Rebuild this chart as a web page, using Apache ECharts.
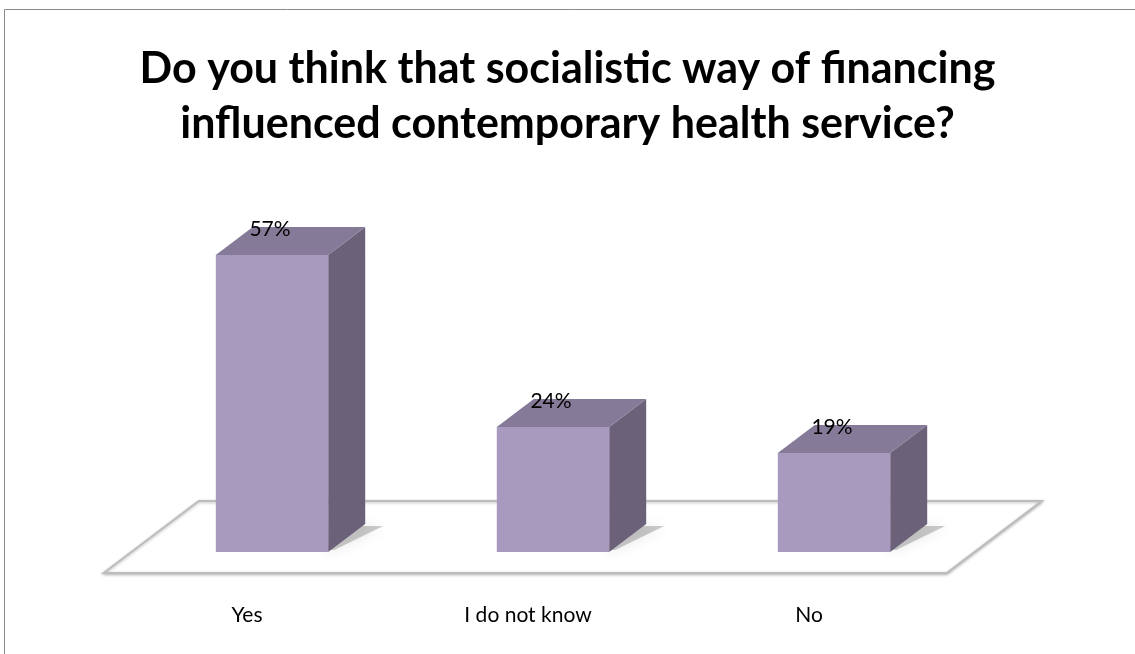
<!DOCTYPE html>
<html>
<head>
<meta charset="utf-8">
<script src="https://cdn.jsdelivr.net/npm/echarts@6/dist/echarts.min.js"></script>
<style>
html,body{margin:0;padding:0;background:#fff;}
#chart{width:1135px;height:654px;}
</style>
</head>
<body>
<div id="chart"></div>
<script>
// ---- data ----
const titleLines = ['Do you think that socialistic way of financing', 'influenced contemporary health service?'];
const categories = ['Yes', 'I do not know', 'No'];
const values = [57, 24, 19];

// ---- style constants ----
const DEPTH_X = 37, DEPTH_Y = 28;
const BAR_FRAC = 0.4;
const FRONT = '#a899be', TOP = '#857a97', SIDE = '#6b6179';
const FONT = 'Lato, "Open Sans", sans-serif';

const chart = echarts.init(document.getElementById('chart'), null, {renderer: 'canvas'});

function renderFloor(params, api) {
  const cs = params.coordSys;
  const l = cs.x, r = cs.x + cs.width, y = cs.y + cs.height;
  const fk = 0.75, bk = 1.82;
  const pts = [
    [l - fk * DEPTH_X, y + fk * DEPTH_Y],
    [r - fk * DEPTH_X, y + fk * DEPTH_Y],
    [r + bk * DEPTH_X, y - bk * DEPTH_Y],
    [l + bk * DEPTH_X, y - bk * DEPTH_Y]
  ];
  return {
    type: 'polygon',
    shape: {points: pts},
    style: {fill: '#ffffff', stroke: '#bdbdbd', lineWidth: 2,
            shadowBlur: 3, shadowColor: 'rgba(0,0,0,0.25)', shadowOffsetY: 1}
  };
}

function renderBar(params, api) {
  const idx = api.value(0), v = api.value(1);
  const base = api.coord([idx, 0]);
  const top = api.coord([idx, v]);
  const bw = api.size([1, 0])[0] * BAR_FRAC;
  const x0 = base[0] - bw / 2, x1 = base[0] + bw / 2;
  const yb = base[1], yt = top[1];
  const dx = DEPTH_X, dy = DEPTH_Y;
  return {
    type: 'group',
    children: [
      {
        type: 'polygon',
        shape: {points: [[x1 - 8, yb - 2], [x1 + 6, yb - 2], [x1 + dx + 18, yb - dy + 2], [x1 + dx - 8, yb - dy + 2]]},
        style: {fill: 'rgba(0,0,0,0.2)', shadowBlur: 14, shadowColor: 'rgba(0,0,0,0.5)'}
      },
      {
        type: 'polygon',
        shape: {points: [[x1, yt], [x1 + dx, yt - dy], [x1 + dx, yb - dy], [x1, yb]]},
        style: {fill: SIDE}
      },
      {
        type: 'polygon',
        shape: {points: [[x0, yt], [x1, yt], [x1 + dx, yt - dy], [x0 + dx, yt - dy]]},
        style: {fill: TOP}
      },
      {
        type: 'rect',
        shape: {x: x0, y: yt, width: bw, height: yb - yt},
        style: {fill: FRONT}
      },
      {
        type: 'text',
        x: base[0] - 2,
        y: yt - 26,
        style: {text: v + '%', fill: '#000', font: '21px ' + FONT, align: 'center', verticalAlign: 'middle'}
      }
    ]
  };
}

chart.setOption({
  animation: false,
  backgroundColor: '#ffffff',
  title: {
    text: titleLines.join('\n'),
    left: 'center',
    top: 37,
    textStyle: {fontFamily: FONT, fontWeight: 'bold', fontSize: 43, lineHeight: 55, color: '#000'}
  },
  graphic: [{
    type: 'rect',
    shape: {x: 4.5, y: 9.5, width: 1200, height: 700},
    style: {fill: 'none', stroke: '#8a8a8a', lineWidth: 1},
    z: 100
  }],
  grid: {left: 131.5, right: 160.5, top: 239.4, bottom: 102},
  xAxis: {
    type: 'category',
    data: categories,
    axisLine: {show: false},
    axisTick: {show: false},
    axisLabel: {margin: 53, fontFamily: FONT, fontSize: 21, color: '#000', padding: [0, 50, 0, 0]}
  },
  yAxis: {
    type: 'value',
    min: 0, max: 60,
    show: false
  },
  series: [
    {
      type: 'custom',
      renderItem: renderFloor,
      data: [[0, 0]],
      encode: {x: 0, y: 1},
      silent: true,
      z: 1
    },
    {
      type: 'custom',
      renderItem: renderBar,
      data: categories.map((c, i) => [i, values[i]]),
      encode: {x: 0, y: 1},
      z: 2
    }
  ]
});
</script>
</body>
</html>
